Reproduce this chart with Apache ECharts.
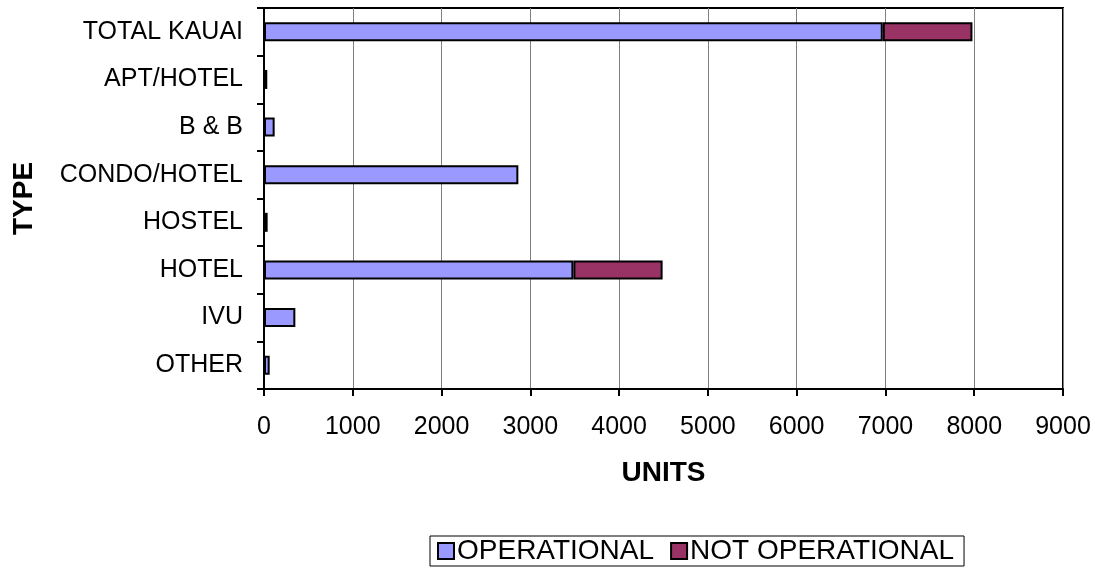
<!DOCTYPE html>
<html>
<head>
<meta charset="utf-8">
<script src="https://cdn.jsdelivr.net/npm/echarts@6/dist/echarts.min.js"></script>
<style>
html,body{margin:0;padding:0;background:#fff;}
#c{width:1095px;height:578px;}
</style>
</head>
<body>
<div id="c"></div>
<script>
var categories = ['TOTAL KAUAI','APT/HOTEL','B & B','CONDO/HOTEL','HOSTEL','HOTEL','IVU','OTHER'];
var operational = [6970, 37, 120, 2865, 41, 3485, 353, 64];
var notOperational = [1010, null, null, null, null, 1005, null, null];
var xTicks = [0, 1000, 2000, 3000, 4000, 5000, 6000, 7000, 8000, 9000];

var FONT = '"Liberation Sans", Arial, sans-serif';
var chart = echarts.init(document.getElementById('c'), null, {renderer: 'canvas'});
chart.setOption({
  animation: false,
  backgroundColor: '#ffffff',
  textStyle: {fontFamily: FONT, color: '#000'},
  grid: {left: 264, right: 32, top: 8, bottom: 189, show: true, borderColor: '#000', borderWidth: 2, backgroundColor: 'transparent'},
  legend: {
    left: 430, top: 536,
    itemWidth: 16, itemHeight: 16, itemGap: 16,
    padding: [1, 10, 1, 7],
    borderColor: '#000', borderWidth: 1,
    icon: 'rect',
    textStyle: {fontFamily: FONT, fontSize: 28, color: '#000', padding: [0, 0, 0, -2]},
    data: ['OPERATIONAL', 'NOT OPERATIONAL']
  },
  xAxis: {
    type: 'value',
    min: xTicks[0], max: xTicks[xTicks.length - 1], interval: 1000,
    name: 'UNITS', nameLocation: 'middle', nameGap: 70,
    nameTextStyle: {fontFamily: FONT, fontSize: 28, fontWeight: 'bold', color: '#000'},
    axisLine: {show: true, lineStyle: {color: '#000', width: 2}},
    axisTick: {show: true, length: 7, lineStyle: {color: '#000', width: 2}},
    axisLabel: {fontFamily: FONT, fontSize: 25, color: '#000', margin: 26,
      formatter: function (v) { return String(v); }},
    splitLine: {show: true, lineStyle: {color: '#808080', width: 1}}
  },
  yAxis: {
    type: 'category',
    data: categories,
    inverse: true,
    name: 'TYPE', nameLocation: 'middle', nameGap: 226, nameRotate: 90,
    nameTextStyle: {fontFamily: FONT, fontSize: 28, fontWeight: 'bold', color: '#000'},
    axisLine: {show: true, lineStyle: {color: '#000', width: 2}},
    axisTick: {show: true, length: 7, lineStyle: {color: '#000', width: 2}},
    axisLabel: {fontFamily: FONT, fontSize: 25, color: '#000', margin: 21},
    splitLine: {show: false}
  },
  series: [
    {
      name: 'OPERATIONAL', type: 'bar', stack: 'total',
      data: operational, barWidth: 19,
      itemStyle: {color: '#9999FF', borderColor: '#000', borderWidth: 2}
    },
    {
      name: 'NOT OPERATIONAL', type: 'bar', stack: 'total',
      data: notOperational, barWidth: 19,
      itemStyle: {color: '#993366', borderColor: '#000', borderWidth: 2}
    }
  ]
});
</script>
</body>
</html>
